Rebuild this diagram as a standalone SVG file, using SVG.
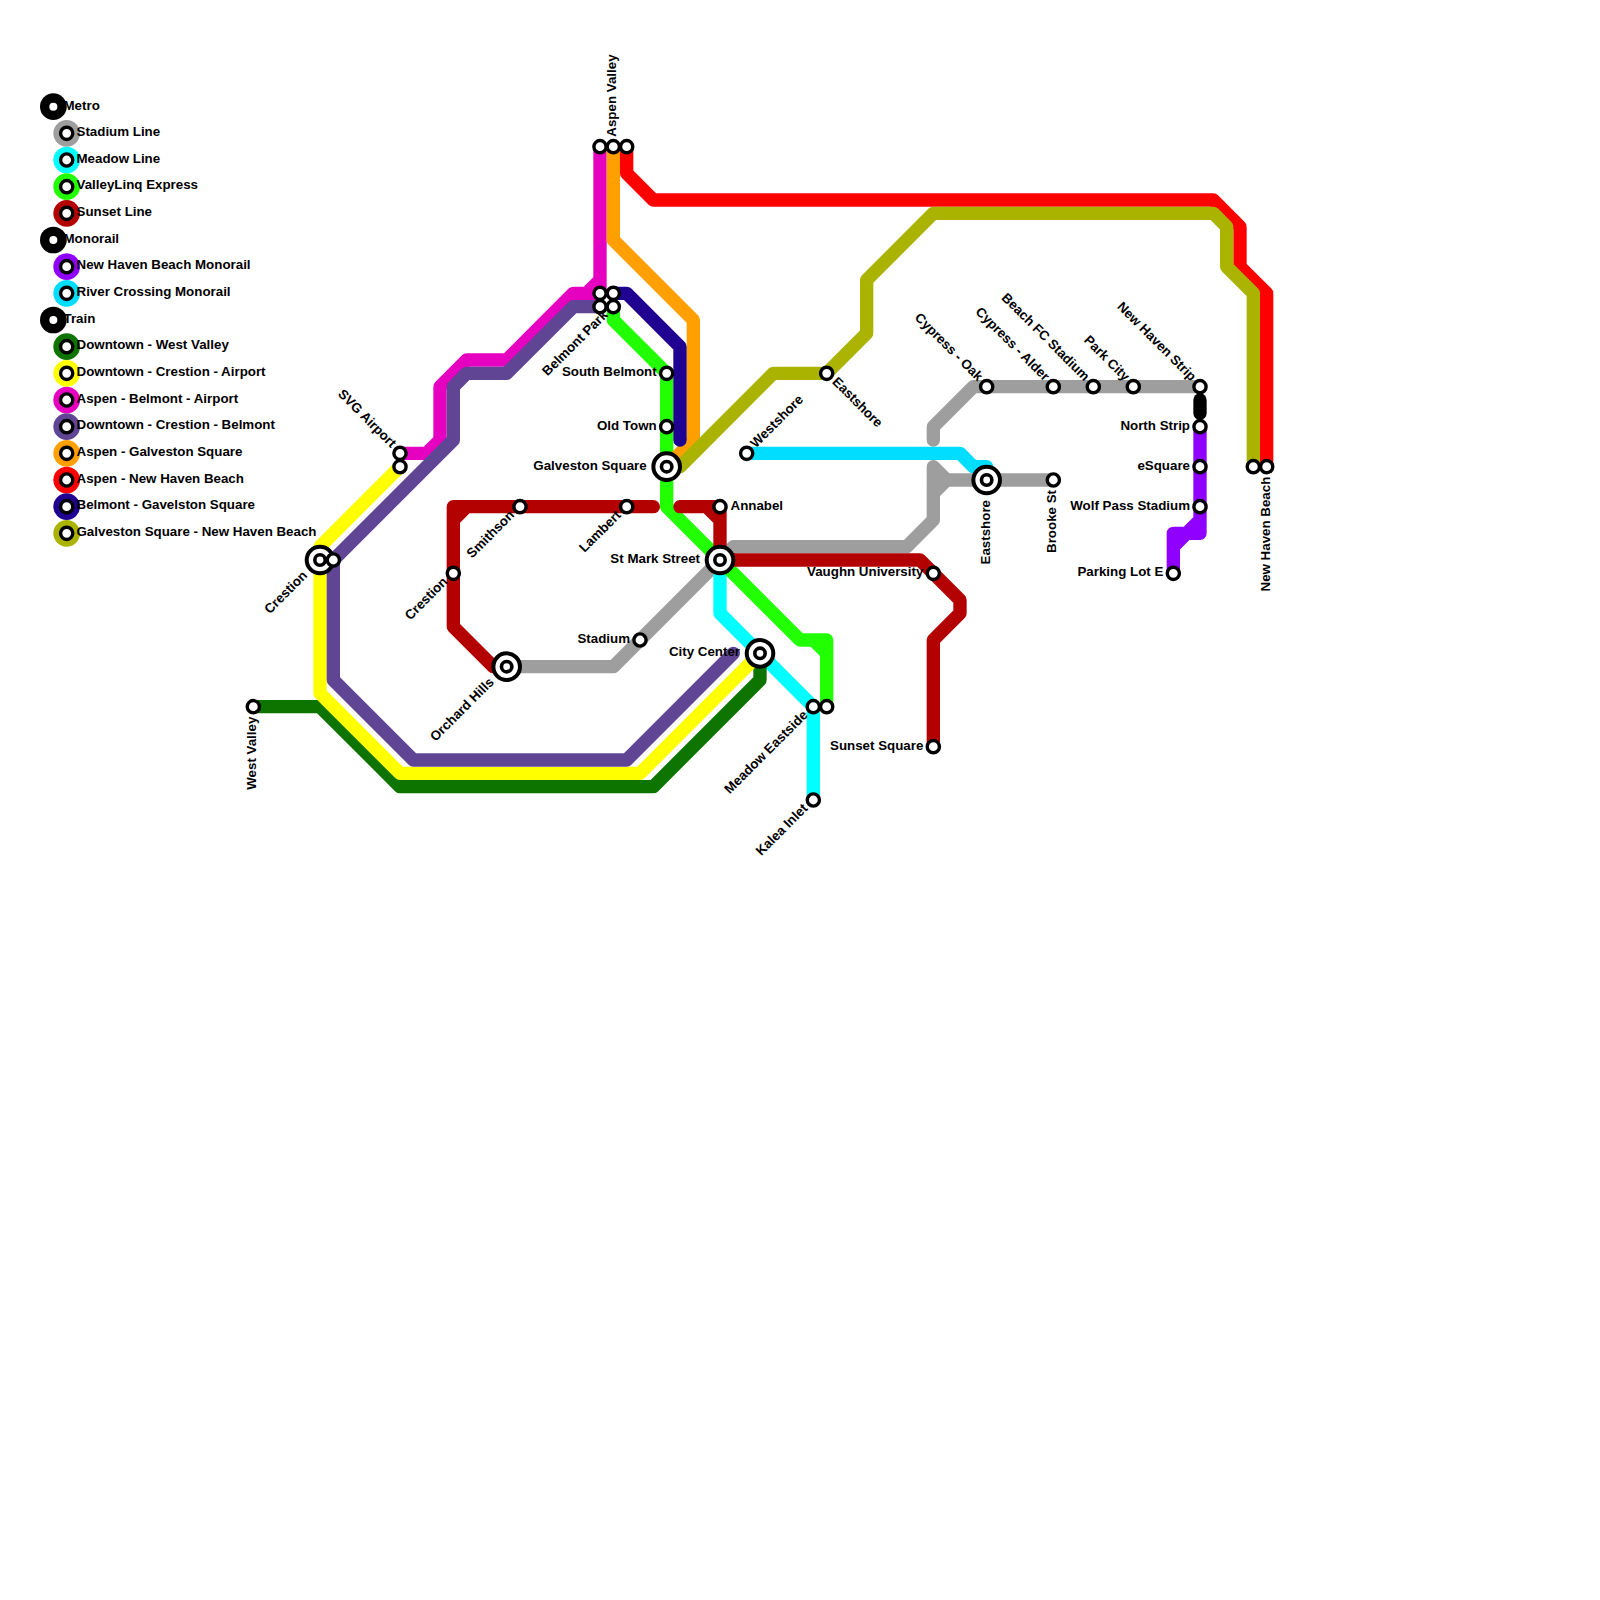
<svg xmlns="http://www.w3.org/2000/svg" xmlns:xlink="http://www.w3.org/1999/xlink" width="1600" height="1600" viewBox="0 0 1600 1600">
<style>
text{font-family:"Liberation Sans",Arial,sans-serif;font-weight:bold;font-size:13.33px;fill:#000}
.e{text-anchor:end}
#connectors path{fill:none;stroke-width:1;stroke-linecap:round;stroke-linejoin:round}
.dot{fill:#fff;stroke:#000;stroke-width:3.4}
.big{fill:#fff;stroke:#000;stroke-width:4}
.in{fill:#fff;stroke:#000;stroke-width:3.6}
</style>
<defs>
<g id="s"><circle class="dot" r="6.1"/></g>
<g id="i"><circle class="big" r="13.3"/><circle class="in" r="5.2"/></g>
</defs>
<rect width="1600" height="1600" fill="#fff"/>
<g id="connectors" transform="scale(13.3333)">
<path stroke="#9e9e9e" d="M38 50H46L54 42M54 42L55 41H68L70 39V35L71 36H79M71 36L70 37M70 33V32L73 29H90"/>
<path stroke="#00ffff" d="M54 42V46L61 53V60"/>
<path stroke="#22ff00" d="M46 23V24L50 28V38L60 48H62V53M61 48L62 49"/>
<path stroke="#b30000" d="M38 50H37L34 47V38H49M34 39L35 38M51 38H54V42M53 38L54 39M54 42H69L72 45V46L70 48V56"/>
<path stroke="#8f00ff" d="M90 32V40H88V43M89 40L90 39M88 41L89 40"/>
<path stroke="#000000" d="M90 30V31"/>
<path stroke="#00ddff" d="M56 34H72L73 35H74V36"/>
<path stroke="#0e7400" d="M19 53H24L30 59H49L57 51V49"/>
<path stroke="#ffff00" d="M30 35L24 41V52L30 58H48L57 49"/>
<path stroke="#e600c0" d="M45 11V22H43L38 27H35L33 29V33L32 34H30M45 21L44 22"/>
<path stroke="#604594" d="M45 23H43L38 28H35L34 29V33L25 42V51L31 57H47L55 49"/>
<path stroke="#ffa000" d="M46 11V18L52 24V33L50 35"/>
<path stroke="#ff0000" d="M47 11V13L49 15H91L93 17V20L95 22V35"/>
<path stroke="#200090" d="M46 22H47L51 26V33"/>
<path stroke="#aab400" d="M50 35H51L58 28H62L65 25V21L70 16H91L92 17V20L94 22V35"/>
</g>
<g id="legend">
<g id="lg-metro"><circle cx="53.33" cy="106.67" r="13.33"/><circle cx="53.33" cy="106.67" r="4" fill="#fff"/><text x="63.5" y="110">Metro</text></g>
<g id="lg-stadium"><circle cx="66.67" cy="133.33" r="13.33" fill="#9e9e9e"/><use href="#s" x="66.67" y="133.33"/><text x="76.5" y="136">Stadium Line</text></g>
<g id="lg-meadow"><circle cx="66.67" cy="160" r="13.33" fill="#00ffff"/><use href="#s" x="66.67" y="160"/><text x="76.5" y="162.7">Meadow Line</text></g>
<g id="lg-valley"><circle cx="66.67" cy="186.67" r="13.33" fill="#22ff00"/><use href="#s" x="66.67" y="186.67"/><text x="76.5" y="189.4">ValleyLinq Express</text></g>
<g id="lg-sunset"><circle cx="66.67" cy="213.33" r="13.33" fill="#b30000"/><use href="#s" x="66.67" y="213.33"/><text x="76.5" y="216">Sunset Line</text></g>
<g id="lg-monorail"><circle cx="53.33" cy="240" r="13.33"/><circle cx="53.33" cy="240" r="4" fill="#fff"/><text x="63.5" y="242.7">Monorail</text></g>
<g id="lg-nh"><circle cx="66.67" cy="266.67" r="13.33" fill="#8f00ff"/><use href="#s" x="66.67" y="266.67"/><text x="76.5" y="269.4">New Haven Beach Monorail</text></g>
<g id="lg-river"><circle cx="66.67" cy="293.33" r="13.33" fill="#00ddff"/><use href="#s" x="66.67" y="293.33"/><text x="76.5" y="296">River Crossing Monorail</text></g>
<g id="lg-train"><circle cx="53.33" cy="320" r="13.33"/><circle cx="53.33" cy="320" r="4" fill="#fff"/><text x="63.5" y="322.7">Train</text></g>
<g id="lg-dwv"><circle cx="66.67" cy="346.67" r="13.33" fill="#0e7400"/><use href="#s" x="66.67" y="346.67"/><text x="76.5" y="349.4">Downtown - West Valley</text></g>
<g id="lg-dca"><circle cx="66.67" cy="373.33" r="13.33" fill="#ffff00"/><use href="#s" x="66.67" y="373.33"/><text x="76.5" y="376">Downtown - Crestion - Airport</text></g>
<g id="lg-aba"><circle cx="66.67" cy="400" r="13.33" fill="#e600c0"/><use href="#s" x="66.67" y="400"/><text x="76.5" y="402.7">Aspen - Belmont - Airport</text></g>
<g id="lg-dcb"><circle cx="66.67" cy="426.67" r="13.33" fill="#604594"/><use href="#s" x="66.67" y="426.67"/><text x="76.5" y="429.4">Downtown - Crestion - Belmont</text></g>
<g id="lg-ag"><circle cx="66.67" cy="453.33" r="13.33" fill="#ffa000"/><use href="#s" x="66.67" y="453.33"/><text x="76.5" y="456">Aspen - Galveston Square</text></g>
<g id="lg-anh"><circle cx="66.67" cy="480" r="13.33" fill="#ff0000"/><use href="#s" x="66.67" y="480"/><text x="76.5" y="482.7">Aspen - New Haven Beach</text></g>
<g id="lg-bg"><circle cx="66.67" cy="506.67" r="13.33" fill="#200090"/><use href="#s" x="66.67" y="506.67"/><text x="76.5" y="509.4">Belmont - Gavelston Square</text></g>
<g id="lg-gnh"><circle cx="66.67" cy="533.33" r="13.33" fill="#aab400"/><use href="#s" x="66.67" y="533.33"/><text x="76.5" y="536">Galveston Square - New Haven Beach</text></g>
</g>
<g id="n-aspen-a" transform="translate(600,146.67)"><use href="#s"/></g>
<g id="n-aspen-valley" transform="translate(613.33,146.67)"><use href="#s"/><text transform="rotate(-90)" x="10" y="3">Aspen Valley</text></g>
<g id="n-aspen-c" transform="translate(626.67,146.67)"><use href="#s"/></g>
<g id="n-belmont-a" transform="translate(600,293.33)"><use href="#s"/></g>
<g id="n-belmont-b" transform="translate(613.33,293.33)"><use href="#s"/></g>
<g id="n-belmont-c" transform="translate(600,306.67)"><use href="#s"/></g>
<g id="n-belmont-park" transform="translate(613.33,306.67)"><use href="#s"/><text class="e" transform="rotate(-45)" x="-10" y="3">Belmont Park</text></g>
<g id="n-south-belmont" transform="translate(666.67,373.33)"><use href="#s"/><text class="e" x="-10" y="3">South Belmont</text></g>
<g id="n-old-town" transform="translate(666.67,426.67)"><use href="#s"/><text class="e" x="-10" y="3">Old Town</text></g>
<g id="n-galveston-square" transform="translate(666.67,466.67)"><use href="#i"/><text class="e" x="-20" y="3">Galveston Square</text></g>
<g id="n-annabel" transform="translate(720,506.67)"><use href="#s"/><text x="10.5" y="3">Annabel</text></g>
<g id="n-st-mark" transform="translate(720,560)"><use href="#i"/><text class="e" x="-20" y="3">St Mark Street</text></g>
<g id="n-lambert" transform="translate(626.67,506.67)"><use href="#s"/><text class="e" transform="rotate(-45)" x="-10" y="3">Lambert</text></g>
<g id="n-smithson" transform="translate(520,506.67)"><use href="#s"/><text class="e" transform="rotate(-45)" x="-10" y="3">Smithson</text></g>
<g id="n-crestion-sunset" transform="translate(453.33,573.33)"><use href="#s"/><text class="e" transform="rotate(-45)" x="-10" y="3">Crestion</text></g>
<g id="n-orchard-hills" transform="translate(506.67,666.67)"><use href="#i"/><text class="e" transform="rotate(-45)" x="-20" y="3">Orchard Hills</text></g>
<g id="n-stadium" transform="translate(640,640)"><use href="#s"/><text class="e" x="-10" y="3">Stadium</text></g>
<g id="n-city-center" transform="translate(760,653.33)"><use href="#i"/><text class="e" x="-20" y="3">City Center</text></g>
<g id="n-meadow-eastside" transform="translate(813.33,706.67)"><use href="#s"/><text class="e" transform="rotate(-45)" x="-10" y="3">Meadow Eastside</text></g>
<g id="n-meadow-b" transform="translate(826.67,706.67)"><use href="#s"/></g>
<g id="n-kalea-inlet" transform="translate(813.33,800)"><use href="#s"/><text class="e" transform="rotate(-45)" x="-10" y="3">Kalea Inlet</text></g>
<g id="n-vaughn" transform="translate(933.33,573.33)"><use href="#s"/><text class="e" x="-10" y="3">Vaughn University</text></g>
<g id="n-sunset-square" transform="translate(933.33,746.67)"><use href="#s"/><text class="e" x="-10" y="3">Sunset Square</text></g>
<g id="n-westshore" transform="translate(746.67,453.33)"><use href="#s"/><text transform="rotate(-45)" x="10" y="3">Westshore</text></g>
<g id="n-eastshore-olive" transform="translate(826.67,373.33)"><use href="#s"/><text transform="rotate(45)" x="10" y="3">Eastshore</text></g>
<g id="n-eastshore" transform="translate(986.67,480)"><use href="#i"/><text class="e" transform="rotate(-90)" x="-20" y="3">Eastshore</text></g>
<g id="n-brooke-st" transform="translate(1053.33,480)"><use href="#s"/><text class="e" transform="rotate(-90)" x="-10" y="3">Brooke St</text></g>
<g id="n-cypress-oak" transform="translate(986.67,386.67)"><use href="#s"/><text class="e" transform="rotate(45)" x="-10" y="3">Cypress - Oak</text></g>
<g id="n-cypress-alder" transform="translate(1053.33,386.67)"><use href="#s"/><text class="e" transform="rotate(45)" x="-10" y="3">Cypress - Alder</text></g>
<g id="n-beach-fc" transform="translate(1093.33,386.67)"><use href="#s"/><text class="e" transform="rotate(45)" x="-10" y="3">Beach FC Stadium</text></g>
<g id="n-park-city" transform="translate(1133.33,386.67)"><use href="#s"/><text class="e" transform="rotate(45)" x="-10" y="3">Park City</text></g>
<g id="n-new-haven-strip" transform="translate(1200,386.67)"><use href="#s"/><text class="e" transform="rotate(45)" x="-10" y="3">New Haven Strip</text></g>
<g id="n-north-strip" transform="translate(1200,426.67)"><use href="#s"/><text class="e" x="-10" y="3">North Strip</text></g>
<g id="n-esquare" transform="translate(1200,466.67)"><use href="#s"/><text class="e" x="-10" y="3">eSquare</text></g>
<g id="n-wolf-pass" transform="translate(1200,506.67)"><use href="#s"/><text class="e" x="-10" y="3">Wolf Pass Stadium</text></g>
<g id="n-parking-lot" transform="translate(1173.33,573.33)"><use href="#s"/><text class="e" x="-10" y="3">Parking Lot E</text></g>
<g id="n-nhb-a" transform="translate(1253.33,466.67)"><use href="#s"/></g>
<g id="n-new-haven-beach" transform="translate(1266.67,466.67)"><use href="#s"/><text class="e" transform="rotate(-90)" x="-10" y="3">New Haven Beach</text></g>
<g id="n-svg-airport" transform="translate(400,453.33)"><use href="#s"/><text class="e" transform="rotate(45)" x="-10" y="3">SVG Airport</text></g>
<g id="n-airport-b" transform="translate(400,466.67)"><use href="#s"/></g>
<g id="n-crestion" transform="translate(320,560)"><use href="#i"/><text class="e" transform="rotate(-45)" x="-20" y="3">Crestion</text></g>
<g id="n-crestion-b" transform="translate(333.33,560)"><use href="#s"/></g>
<g id="n-west-valley" transform="translate(253.33,706.67)"><use href="#s"/><text class="e" transform="rotate(-90)" x="-10" y="3">West Valley</text></g>
</svg>
